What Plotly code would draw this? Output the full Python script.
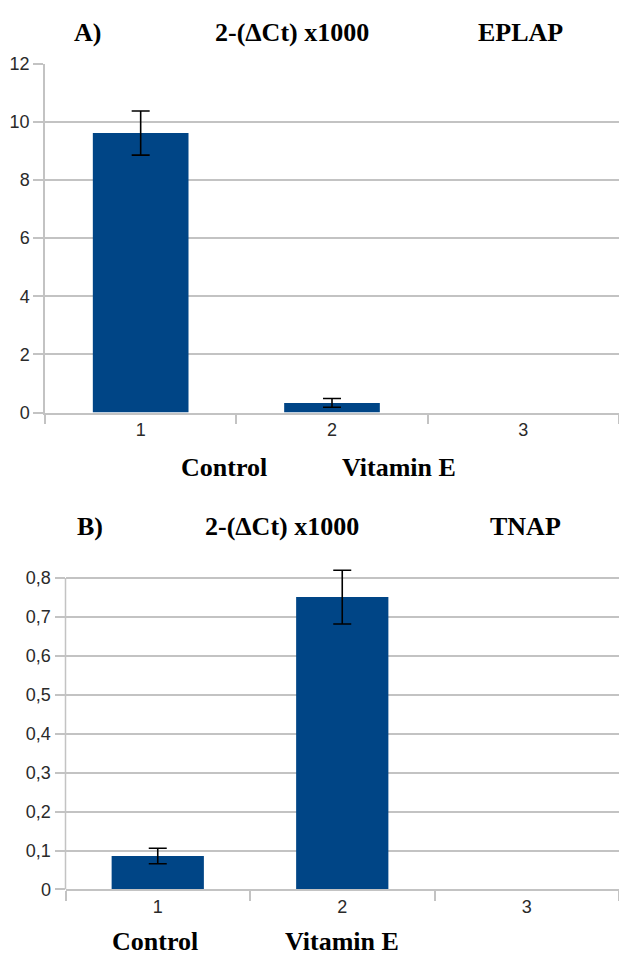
import plotly.graph_objects as go

# ---- data ----
categories = ["1", "2", "3"]

eplap_values = [9.62, 0.33, None]
eplap_errors = [0.76, 0.15, None]

tnap_values = [0.086, 0.751, None]
tnap_errors = [0.020, 0.069, None]

top_yticks = [0, 2, 4, 6, 8, 10, 12]
top_yticktext = ["0", "2", "4", "6", "8", "10", "12"]
bot_yticks = [0, 0.1, 0.2, 0.3, 0.4, 0.5, 0.6, 0.7, 0.8]
bot_yticktext = ["0", "0,1", "0,2", "0,3", "0,4", "0,5", "0,6", "0,7", "0,8"]

top_titles = ["A)", "2-(ΔCt) x1000", "EPLAP"]
bot_titles = ["B)", "2-(ΔCt) x1000", "TNAP"]
group_labels = ["Control", "Vitamin E"]

# ---- style ----
W, H = 619, 968
BAR = "#004586"
GRID = "#c3c3c3"
TICKFONT = dict(family="Liberation Sans, Arial, sans-serif", size=18, color="#2a2a2a")
SERIF = dict(family="Liberation Serif, Times New Roman, serif", size=26, color="#000000")

def px_x(p):
    return p / W

def px_y(p):
    return 1 - p / H

# bottom panel: 0 at 898 px, 0.8 at 580 px, with headroom so error caps are not clipped
bot_zero_px, bot_top_px = 898, 580
bot_ppu = (bot_zero_px - bot_top_px) / bot_yticks[-1]
bot_range_top = 0.85
bot_domain_top_px = bot_zero_px - bot_range_top * bot_ppu

fig = go.Figure()

for vals, errs, xa, ya in [(eplap_values, eplap_errors, "x", "y"),
                           (tnap_values, tnap_errors, "x2", "y2")]:
    fig.add_trace(go.Bar(
        x=categories, y=vals, xaxis=xa, yaxis=ya,
        marker=dict(color=BAR, line=dict(width=0)),
        width=0.5,
        error_y=dict(type="data", array=errs, visible=True,
                     color="#000000", thickness=1.6, width=9),
        showlegend=False, hoverinfo="skip",
    ))

xcommon = dict(type="category", categoryorder="array", categoryarray=categories,
               range=[-0.5, 2.5], tickson="boundaries", ticks="outside",
               ticklen=10, tickcolor=GRID, tickwidth=1.5, showline=True,
               linecolor=GRID, linewidth=1.5, showgrid=False, zeroline=False,
               tickfont=TICKFONT, fixedrange=True)

ycommon = dict(ticks="outside", ticklen=10, tickcolor=GRID, tickwidth=1.5,
               showgrid=True, gridcolor=GRID, gridwidth=1.5, zeroline=False,
               tickfont=TICKFONT, tickmode="array", fixedrange=True)

x1_left = px_x(45)
x2_left = px_x(65.5)

fig.update_layout(
    width=W, height=H,
    margin=dict(l=0, r=0, t=0, b=0),
    paper_bgcolor="white", plot_bgcolor="white",
    xaxis=dict(xcommon, domain=[x1_left, 1], anchor="y"),
    yaxis=dict(ycommon, domain=[px_y(411), px_y(55)], range=[0, 12],
               showline=True, linecolor=GRID, linewidth=1.5,
               tickvals=top_yticks, ticktext=top_yticktext, anchor="x"),
    xaxis2=dict(xcommon, domain=[x2_left, 1], anchor="y2"),
    yaxis2=dict(ycommon, domain=[px_y(bot_zero_px), px_y(bot_domain_top_px)],
                range=[0, bot_range_top], showline=False,
                tickvals=bot_yticks, ticktext=bot_yticktext, anchor="x2"),
    shapes=[dict(type="line", xref="paper", yref="y2",
                 x0=x2_left, x1=x2_left, y0=bot_yticks[0], y1=bot_yticks[-1],
                 line=dict(color=GRID, width=1.5), layer="below")],
)

annotations = []
def add_text(text, cx, cy, anchor="middle"):
    annotations.append(dict(text=f"<b>{text}</b>", x=px_x(cx), y=px_y(cy),
                            xref="paper", yref="paper", showarrow=False,
                            xanchor="center", yanchor=anchor, font=SERIF))

for text, cx in zip(top_titles, [87, 292, 520]):
    add_text(text, cx, 23)
for text, cx in zip(bot_titles, [90, 282, 525]):
    add_text(text, cx, 527)
for text, cx in zip(group_labels, [224, 399]):
    add_text(text, cx, 467)
for text, cx in zip(group_labels, [155, 342]):
    add_text(text, cx, 968, anchor="bottom")
fig.update_layout(annotations=annotations)

fig.write_html(
    "out.html",
    config={"displayModeBar": False},
    post_script="document.body.style.margin='0';document.body.style.overflow='hidden';",
)
